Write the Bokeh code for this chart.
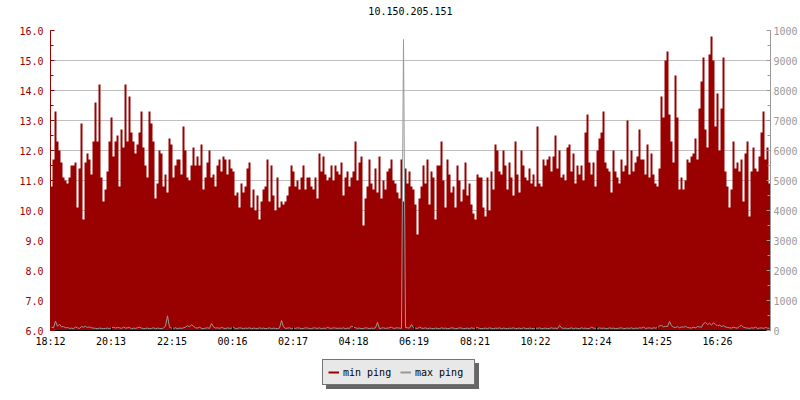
from bokeh.plotting import figure
from bokeh.layouts import column
from bokeh.models import (Range1d, LinearAxis, SingleIntervalTicker, FixedTicker,
                          PrintfTickFormatter, Legend, LegendItem, Title)
from bokeh.embed import file_html
from bokeh.resources import INLINE

TITLE = "10.150.205.151"
FONT = "DejaVu Sans Mono"
RED = "#990000"
GRAY = "#999999"

X_TICK_LABELS = ["18:12", "20:13", "22:15", "00:16", "02:17", "04:18",
                 "06:19", "08:21", "10:22", "12:24", "14:25", "16:26"]
SERIES_NAMES = ["min ping", "max ping"]
SAMPLE_MINUTES = 4
SPAN_MINUTES = 1440

# min ping (ms), one value per 4 minutes, starting 18:12
MIN_PING_1 = [10.8, 11.7, 13.3, 12.3, 12.0, 11.6, 11.1, 11.0, 10.9, 11.1, 11.5, 11.5,
              11.6, 10.1, 11.4, 12.9, 9.7, 11.6, 11.9, 11.7, 11.2, 12.3, 13.6, 12.3,
              14.2, 11.1, 10.3, 10.7, 11.3, 12.3, 13.1, 11.8, 12.3, 12.5, 10.8, 12.7,
              12.1, 14.2, 12.3, 13.8, 12.6, 12.3, 11.9, 12.2, 12.6, 13.3, 12.1, 11.5,
              11.1, 13.3, 12.9, 12.3, 10.4, 10.9, 12.0, 11.9, 10.8, 11.2, 10.6, 12.4,
              12.2, 11.1, 11.5, 11.7, 11.7, 11.2, 12.8, 12.0, 11.1, 11.0, 11.5, 12.1]
MIN_PING_2 = [11.5, 11.8, 11.5, 12.2, 10.7, 11.1, 11.6, 12.0, 11.1, 11.2, 10.8, 11.5,
              11.7, 11.3, 11.8, 11.7, 11.2, 11.7, 11.4, 11.3, 10.5, 10.6, 10.1, 10.9,
              10.6, 10.8, 11.4, 11.6, 10.1, 10.7, 10.0, 10.5, 9.7, 10.3, 10.7, 10.8,
              11.7, 10.3, 11.5, 10.5, 10.0, 11.1, 10.1, 10.3, 10.2, 10.3, 10.5, 10.8,
              11.5, 11.3, 10.8, 11.0, 10.7, 11.1, 11.5, 10.7, 11.1, 11.1, 10.8, 10.7,
              11.1, 10.4, 11.9, 11.3, 11.8, 11.2, 11.0, 11.1, 11.5, 11.0, 11.5, 11.3]
MIN_PING_3 = [11.2, 11.6, 10.5, 11.1, 11.3, 10.8, 11.1, 11.3, 12.3, 11.0, 11.6, 11.8,
              9.5, 10.4, 10.8, 11.7, 10.9, 10.7, 11.4, 10.6, 11.8, 10.4, 11.0, 10.7,
              11.3, 11.4, 11.7, 11.0, 10.9, 10.6, 10.4, 11.7, 10.3, 11.4, 10.9, 11.3,
              10.8, 10.7, 10.2, 9.2, 10.4, 10.8, 11.5, 10.9, 11.7, 10.2, 11.3, 11.1,
              9.7, 11.5, 11.5, 12.3, 11.0, 10.1, 11.7, 11.2, 10.6, 10.8, 10.1, 11.5,
              11.0, 10.3, 10.7, 11.6, 10.5, 10.9, 10.2, 9.9, 9.7, 11.2, 11.1, 11.1]
MIN_PING_4 = [10.1, 9.8, 11.1, 10.0, 11.3, 10.7, 12.2, 12.0, 11.3, 11.2, 12.0, 11.5,
              10.7, 11.6, 11.1, 10.5, 12.3, 11.2, 10.6, 12.0, 11.5, 11.1, 11.0, 11.4,
              10.9, 11.2, 10.8, 12.8, 10.9, 10.8, 11.7, 11.5, 11.7, 11.8, 11.3, 11.8,
              12.5, 11.4, 12.0, 11.1, 11.2, 11.0, 12.1, 12.2, 11.3, 11.9, 10.9, 11.5,
              11.2, 11.5, 11.0, 12.6, 13.2, 11.6, 11.2, 11.6, 10.8, 12.0, 12.4, 12.6,
              13.3, 11.6, 11.4, 11.3, 10.6, 12.0, 11.3, 11.1, 10.9, 11.7, 11.3, 11.5]
MIN_PING_5 = [13.0, 11.2, 12.0, 11.3, 11.6, 11.8, 12.7, 11.7, 11.7, 11.2, 12.2, 11.1,
              11.9, 11.2, 10.9, 10.8, 11.4, 13.8, 13.1, 15.0, 15.3, 13.2, 12.3, 11.6,
              14.5, 13.1, 10.7, 11.1, 10.7, 11.0, 11.7, 11.6, 11.8, 11.9, 12.4, 11.7,
              13.4, 14.3, 15.1, 12.7, 12.1, 15.2, 15.8, 15.0, 12.8, 13.9, 12.0, 13.4,
              15.1, 11.3, 10.8, 10.1, 10.7, 12.3, 11.4, 11.6, 11.3, 11.7, 10.3, 11.9,
              12.3, 9.8, 11.3, 12.1, 11.4, 11.3, 11.8, 12.6, 13.3, 11.7, 12.1, 10.9]

# max ping (ms), right axis
MAX_PING_1 = [110, 90, 310, 140, 210, 120, 130, 90, 100, 70, 80, 60,
              120, 90, 70, 130, 110, 140, 100, 120, 90, 80, 70, 60,
              80, 70, 60, 70, 80, 60, 90, 110, 80, 100, 90, 70,
              110, 80, 90, 100, 60, 80, 70, 90, 110, 80, 60, 70,
              80, 60, 70, 90, 60, 80, 70, 60, 80, 150, 490, 110,
              80, 70, 90, 60, 80, 70, 90, 110, 160, 120, 190, 140]
MAX_PING_2 = [90, 80, 110, 70, 60, 80, 90, 70, 230, 120, 80, 90,
              70, 100, 80, 60, 90, 70, 80, 110, 60, 70, 90, 80,
              60, 80, 70, 90, 60, 80, 70, 60, 90, 70, 80, 60,
              70, 90, 60, 80, 70, 60, 80, 330, 120, 70, 80, 90,
              60, 80, 70, 90, 80, 60, 70, 90, 80, 70, 60, 90,
              80, 70, 90, 60, 80, 70, 100, 80, 70, 90, 80, 70]
MAX_PING_3 = [80, 70, 90, 60, 80, 70, 150, 110, 90, 70, 80, 60,
              70, 90, 80, 60, 80, 70, 90, 270, 60, 80, 90, 70,
              80, 90, 110, 70, 80, 90, 80, 70, 9700, 100, 90, 80,
              200, 90, 80, 70, 110, 80, 70, 90, 60, 80, 70, 60,
              80, 70, 60, 90, 70, 80, 60, 70, 90, 80, 60, 70,
              90, 80, 60, 70, 80, 60, 90, 70, 80, 100, 70, 60]
MAX_PING_4 = [70, 80, 60, 90, 70, 60, 80, 70, 90, 60, 80, 70,
              60, 80, 70, 90, 60, 70, 80, 60, 90, 70, 60, 80,
              70, 60, 80, 70, 90, 60, 70, 80, 60, 70, 90, 70,
              80, 60, 170, 90, 70, 80, 60, 70, 90, 60, 80, 70,
              60, 90, 70, 80, 60, 70, 110, 80, 70, 60, 90, 70,
              80, 70, 60, 90, 70, 80, 60, 70, 80, 90, 60, 70]
MAX_PING_5 = [80, 70, 90, 60, 80, 70, 90, 80, 110, 70, 80, 90,
              70, 90, 80, 100, 150, 170, 120, 140, 130, 300, 160, 110,
              100, 130, 90, 120, 110, 140, 100, 90, 80, 110, 90, 130,
              120, 110, 230, 270, 200, 240, 180, 260, 200, 150, 180, 130,
              160, 120, 100, 90, 80, 110, 90, 80, 140, 170, 110, 90,
              80, 70, 90, 80, 110, 70, 80, 90, 70, 100, 80, 70]

MIN_PING = MIN_PING_1 + MIN_PING_2 + MIN_PING_3 + MIN_PING_4 + MIN_PING_5
MAX_PING = MAX_PING_1 + MAX_PING_2 + MAX_PING_3 + MAX_PING_4 + MAX_PING_5
assert len(MIN_PING) == len(MAX_PING)

n = len(MIN_PING)
t_edges = [i * SAMPLE_MINUTES for i in range(n + 1)]
t_mid = [i * SAMPLE_MINUTES + SAMPLE_MINUTES / 2 for i in range(n)]
min_ext = MIN_PING + [MIN_PING[-1]]


def to_minutes(lbl, start):
    h, m = lbl.split(":")
    return (int(h) * 60 + int(m) - start) % 1440


h0, m0 = X_TICK_LABELS[0].split(":")
start_min = int(h0) * 60 + int(m0)
tick_pos = [to_minutes(l, start_min) for l in X_TICK_LABELS]

p = figure(width=800, height=352, output_backend="svg", toolbar_location=None,
           x_range=Range1d(0, SPAN_MINUTES), y_range=Range1d(6, 16),
           min_border_left=50, min_border_right=30, min_border_top=30,
           min_border_bottom=22, background_fill_color="white",
           border_fill_color="white", outline_line_color=None)
p.extra_y_ranges = {"ping": Range1d(0, 10000)}

# a blank spacer title sits next to the frame so the real title is lifted up
p.add_layout(Title(text=" ", text_font=FONT, text_font_size="10px", standoff=0),
             "above")
p.title.text = TITLE
p.title.align = "center"
p.title.vertical_align = "bottom"
p.title.text_font = FONT
p.title.text_font_size = "10px"
p.title.text_font_style = "normal"
p.title.text_color = "black"
p.title.standoff = 6

p.varea_step(x=t_edges, y1=[6] * len(t_edges), y2=min_ext, step_mode="after",
             fill_color=RED)
p.line(x=t_mid, y=MAX_PING, line_color=GRAY, line_width=1, y_range_name="ping")

# axes
p.xgrid.visible = False
p.ygrid.grid_line_color = "#c0c0c0"
p.ygrid.ticker = SingleIntervalTicker(interval=1)

xa = p.xaxis[0]
xa.ticker = FixedTicker(ticks=tick_pos)
xa.major_label_overrides = {tp: lbl for tp, lbl in zip(tick_pos, X_TICK_LABELS)}
xa.axis_line_color = "black"
xa.major_tick_line_color = "black"
xa.major_tick_in = 4
xa.major_tick_out = 0
xa.minor_tick_line_color = None
xa.major_label_text_font = FONT
xa.major_label_text_font_size = "10px"
xa.major_label_text_color = "black"
xa.major_label_standoff = 5

ya = p.yaxis[0]
ya.ticker = SingleIntervalTicker(interval=1, num_minor_ticks=2)
ya.formatter = PrintfTickFormatter(format="%.1f")
ya.axis_line_color = RED
ya.major_tick_line_color = RED
ya.minor_tick_line_color = RED
ya.major_tick_in = 4
ya.major_tick_out = 0
ya.minor_tick_in = 3
ya.minor_tick_out = 0
ya.major_label_text_font = FONT
ya.major_label_text_font_size = "10px"
ya.major_label_text_color = RED
ya.major_label_standoff = 7

ra = LinearAxis(y_range_name="ping",
                ticker=SingleIntervalTicker(interval=1000, num_minor_ticks=2))
ra.major_label_overrides = {10000: "1000"}
ra.axis_line_color = GRAY
ra.major_tick_line_color = GRAY
ra.minor_tick_line_color = GRAY
ra.major_tick_in = 4
ra.major_tick_out = 0
ra.minor_tick_in = 3
ra.minor_tick_out = 0
ra.major_label_text_font = FONT
ra.major_label_text_font_size = "10px"
ra.major_label_text_color = GRAY
ra.major_label_standoff = 3
p.add_layout(ra, "right")

# legend strip below the chart (its frame is aligned with the chart frame)
q = figure(width=800, height=48, output_backend="svg", toolbar_location=None,
           x_range=Range1d(0, 1), y_range=Range1d(0, 1),
           x_axis_type=None, y_axis_type=None, min_border=0,
           outline_line_color=None, background_fill_color="white",
           border_fill_color="white")
q.grid.visible = False
# one-point proxies (a single point draws no line) used only as legend swatches
leg_min = q.line(x=[t_mid[0]], y=[MIN_PING[0]], line_color=RED, line_width=2)
leg_max = q.line(x=[t_mid[0]], y=[MAX_PING[0]], line_color=GRAY, line_width=2)


def make_legend(loc, shadow):
    labels = [" ", " "] if shadow else SERIES_NAMES
    lg = Legend(items=[LegendItem(label=labels[0], renderers=[leg_min]),
                       LegendItem(label=labels[1], renderers=[leg_max])],
                location=loc, orientation="horizontal",
                glyph_width=11, glyph_height=14, label_standoff=4,
                label_width=54, spacing=3, padding=5, margin=0,
                label_text_font=FONT, label_text_font_size="10px",
                label_text_color="black", click_policy="none")
    if shadow:
        lg.background_fill_color = "#666666"
        lg.background_fill_alpha = 1
        lg.border_line_color = "#666666"
        lg.border_line_width = 1
        lg.label_text_alpha = 0
    else:
        lg.background_fill_color = "#e8e8e8"
        lg.background_fill_alpha = 1
        lg.border_line_color = "black"
        lg.border_line_width = 1
    return lg


q.add_layout(make_legend((276, 11), True), "center")
q.add_layout(make_legend((272, 15), False), "center")

layout = column(p, q, spacing=0)
open("out.html", "w").write(file_html(layout, INLINE))
